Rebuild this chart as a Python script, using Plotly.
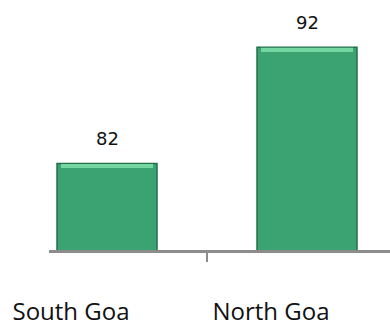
"""Bar chart: South Goa vs North Goa."""

import plotly.graph_objects as go

districts = ["South Goa", "North Goa"]
values = [82, 92]

BAR_GREEN = "#3BA371"
EDGE_GREEN = "#24704C"
HIGHLIGHT_GREEN = "#74D6A0"
AXIS_GREY = "#8C8C8C"

fig = go.Figure()

fig.add_trace(go.Bar(
    x=districts, y=values,
    width=0.5,
    marker=dict(color=BAR_GREEN, line=dict(color=EDGE_GREEN, width=1.5)),
    hoverinfo="skip",
    showlegend=False,
))

# thin lighter strip on the bar tops to hint at the bevel
fig.add_trace(go.Bar(
    x=districts, y=[0.35] * len(values),
    base=[v - 0.4 for v in values],
    width=0.46,
    marker=dict(color=HIGHLIGHT_GREEN, line=dict(width=0)),
    hoverinfo="skip",
    showlegend=False,
))

for name, val in zip(districts, values):
    fig.add_annotation(
        x=name, y=val, text=str(val),
        showarrow=False, yanchor="bottom", yshift=12,
        font=dict(family="DejaVu Sans", size=18, color="#111"),
    )

fig.update_layout(
    width=390, height=327,
    barmode="overlay",
    plot_bgcolor="white",
    paper_bgcolor="white",
    margin=dict(t=0, b=73, l=49, r=0, pad=0),
    xaxis=dict(
        range=[-0.29, 1.415],
        showline=True, linecolor=AXIS_GREY, linewidth=3,
        ticks="outside", tickson="boundaries", ticklen=9,
        tickcolor=AXIS_GREY, tickwidth=2,
        showgrid=False, zeroline=False,
        ticklabelshift=-36, ticklabelstandoff=38,
        tickfont=dict(family="Open Sans", size=24, color="#111"),
    ),
    yaxis=dict(range=[74.54, 96.07], visible=False),
)

fig.write_html(
    "out.html",
    config={"displayModeBar": False},
    post_script="document.body.style.margin='0';",
)
